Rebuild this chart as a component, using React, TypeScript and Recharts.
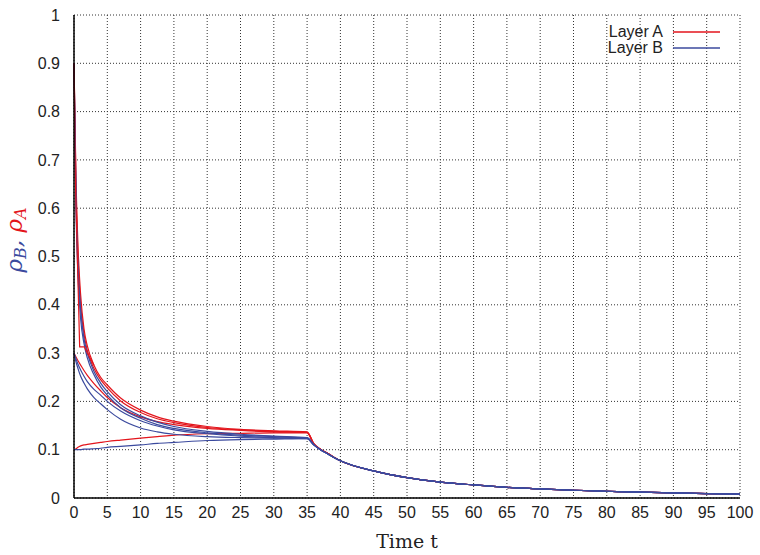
import React from 'react';
import { LineChart, Line, XAxis, YAxis, CartesianGrid, Legend } from 'recharts';

const RED = '#e3151c';
const BLUE = '#3b4a9e';

const times = [0, 0.3, 0.6, 1, 1.5, 2, 3, 4, 5, 7, 10, 12.5, 15, 20, 25, 30, 35, 36, 37, 38, 40, 45, 50, 55, 60, 65, 70, 75, 80, 85, 90, 95, 100];

const layerA1 = [0.9, 0.66, 0.52, 0.42, 0.35, 0.315, 0.275, 0.25, 0.234, 0.207, 0.182, 0.168, 0.159, 0.148, 0.142, 0.139, 0.137, 0.113, 0.101, 0.093, 0.077, 0.056, 0.042, 0.033, 0.027, 0.022, 0.019, 0.016, 0.014, 0.012, 0.0105, 0.009, 0.008];
const layerA2 = [0.9, 0.64, 0.5, 0.4, 0.34, 0.305, 0.268, 0.245, 0.228, 0.201, 0.177, 0.164, 0.156, 0.146, 0.141, 0.138, 0.136, 0.112, 0.101, 0.093, 0.077, 0.056, 0.042, 0.033, 0.027, 0.022, 0.019, 0.016, 0.014, 0.012, 0.0105, 0.009, 0.008];
const layerA3 = [0.3, 0.292, 0.284, 0.275, 0.264, 0.254, 0.237, 0.222, 0.208, 0.187, 0.168, 0.158, 0.152, 0.144, 0.14, 0.137, 0.136, 0.112, 0.101, 0.093, 0.077, 0.056, 0.042, 0.033, 0.027, 0.022, 0.019, 0.016, 0.014, 0.012, 0.0105, 0.009, 0.008];
const layerA4 = [0.1, 0.102, 0.105, 0.108, 0.11, 0.111, 0.113, 0.115, 0.117, 0.12, 0.124, 0.127, 0.13, 0.133, 0.134, 0.135, 0.135, 0.112, 0.101, 0.093, 0.077, 0.056, 0.042, 0.033, 0.027, 0.022, 0.019, 0.016, 0.014, 0.012, 0.0105, 0.009, 0.008];

const layerB1 = [0.9, 0.62, 0.48, 0.39, 0.33, 0.3, 0.262, 0.238, 0.22, 0.193, 0.17, 0.157, 0.148, 0.138, 0.132, 0.128, 0.125, 0.111, 0.1, 0.092, 0.077, 0.056, 0.042, 0.033, 0.027, 0.022, 0.019, 0.016, 0.014, 0.012, 0.0105, 0.009, 0.008];
const layerB2 = [0.9, 0.6, 0.46, 0.37, 0.32, 0.29, 0.255, 0.23, 0.213, 0.187, 0.165, 0.152, 0.144, 0.135, 0.13, 0.127, 0.124, 0.11, 0.1, 0.092, 0.077, 0.056, 0.042, 0.033, 0.027, 0.022, 0.019, 0.016, 0.014, 0.012, 0.0105, 0.009, 0.008];
const layerB3 = [0.3, 0.288, 0.277, 0.265, 0.252, 0.241, 0.225, 0.213, 0.2, 0.18, 0.16, 0.149, 0.141, 0.133, 0.128, 0.125, 0.124, 0.11, 0.1, 0.092, 0.077, 0.056, 0.042, 0.033, 0.027, 0.022, 0.019, 0.016, 0.014, 0.012, 0.0105, 0.009, 0.008];
const layerB4 = [0.3, 0.282, 0.268, 0.252, 0.238, 0.226, 0.208, 0.195, 0.183, 0.163, 0.145, 0.137, 0.132, 0.127, 0.125, 0.124, 0.123, 0.11, 0.1, 0.092, 0.077, 0.056, 0.042, 0.033, 0.027, 0.022, 0.019, 0.016, 0.014, 0.012, 0.0105, 0.009, 0.008];
const layerB5 = [0.1, 0.1, 0.1, 0.1, 0.101, 0.101, 0.102, 0.103, 0.105, 0.107, 0.11, 0.113, 0.115, 0.119, 0.121, 0.122, 0.123, 0.11, 0.1, 0.092, 0.077, 0.056, 0.042, 0.033, 0.027, 0.022, 0.019, 0.016, 0.014, 0.012, 0.0105, 0.009, 0.008];

const stepTimes = [0, 0.2, 0.85, 1.55, 2, 3];
const stepValues = [0.9, 0.66, 0.313, 0.313, 0.3, 0.275];

const xTicks = [0, 5, 10, 15, 20, 25, 30, 35, 40, 45, 50, 55, 60, 65, 70, 75, 80, 85, 90, 95, 100];
const yTicks = [0, 0.1, 0.2, 0.3, 0.4, 0.5, 0.6, 0.7, 0.8, 0.9, 1];

const legendItems = [
  { name: 'Layer A', color: RED },
  { name: 'Layer B', color: BLUE },
];

const data = times.map((t, i) => ({
  t,
  a1: layerA1[i],
  a2: layerA2[i],
  a3: layerA3[i],
  a4: layerA4[i],
  b1: layerB1[i],
  b2: layerB2[i],
  b3: layerB3[i],
  b4: layerB4[i],
  b5: layerB5[i],
}));

const stepData = stepTimes.map((t, i) => ({ t, s: stepValues[i] }));

const SANS = '"Liberation Sans", Arial, sans-serif';
const SERIF = '"DejaVu Serif", serif';

const renderLegend = () => (
  <div style={{ fontFamily: SANS, fontSize: 16, lineHeight: '16px', color: '#222' }}>
    {legendItems.map((it) => (
      <div key={it.name} style={{ display: 'flex', alignItems: 'center', justifyContent: 'flex-end', height: 16 }}>
        <span style={{ lineHeight: '16px' }}>{it.name}</span>
        <svg width={57} height={16} style={{ display: 'block' }}>
          <line x1={10} x2={57} y1={8} y2={8} stroke={it.color} strokeWidth={1.5} />
        </svg>
      </div>
    ))}
  </div>
);

const YLabel = () => (
  <text
    x={22}
    y={240}
    transform="rotate(-90 22 240)"
    textAnchor="middle"
    fontFamily={SERIF}
    fontStyle="italic"
    fontSize={23}
  >
    <tspan fill={BLUE}>ρ</tspan>
    <tspan fill={BLUE} fontSize={16} dy={4}>B</tspan>
    <tspan fill={BLUE} dy={-4}>, </tspan>
    <tspan fill={RED}>ρ</tspan>
    <tspan fill={RED} fontSize={16} dy={4}>A</tspan>
  </text>
);

const XLabel = () => (
  <text x={407} y={548} textAnchor="middle" fontFamily={SERIF} fontSize={19} fill="#222">
    Time t
  </text>
);

const series = [
  { key: 'a1', color: RED },
  { key: 'a2', color: RED },
  { key: 'a3', color: RED },
  { key: 'a4', color: RED },
  { key: 'b1', color: BLUE },
  { key: 'b2', color: BLUE },
  { key: 'b3', color: BLUE },
  { key: 'b4', color: BLUE },
  { key: 'b5', color: BLUE },
];

export default function App() {
  return (
    <div style={{ position: 'absolute', left: 0, top: 0, background: '#fff' }}>
      <LineChart width={760} height={555} data={data} margin={{ top: 15, right: 20, left: 0, bottom: 0 }}>
        <CartesianGrid stroke="#333" strokeDasharray="1 2" strokeWidth={1} />
        <XAxis
          dataKey="t"
          type="number"
          domain={[0, 100]}
          ticks={xTicks}
          interval={0}
          height={57}
          tickLine={false}
          tickSize={6}
          tickMargin={3}
          axisLine={{ stroke: '#000', strokeWidth: 1.5 }}
          tick={{ fill: '#222', fontSize: 16, fontFamily: SANS }}
          label={<XLabel />}
        />
        <YAxis
          type="number"
          domain={[0, 1]}
          ticks={yTicks}
          interval={0}
          width={74}
          tickLine={false}
          tickSize={6}
          tickMargin={8}
          axisLine={{ stroke: '#000', strokeWidth: 1.5 }}
          tick={{ fill: '#222', fontSize: 16, fontFamily: SANS }}
          label={<YLabel />}
        />
        <Legend
          content={renderLegend}
          layout="horizontal"
          verticalAlign="middle"
          align="center"
          wrapperStyle={{ top: 24, left: 560, width: 160 }}
        />
        {series.map((s) => (
          <Line
            key={s.key}
            dataKey={s.key}
            stroke={s.color}
            strokeWidth={1.2}
            dot={false}
            type="monotone"
            isAnimationActive={false}
            legendType="none"
          />
        ))}
        <Line
          data={stepData}
          dataKey="s"
          stroke={RED}
          strokeWidth={1.2}
          dot={false}
          type="linear"
          isAnimationActive={false}
          legendType="none"
        />
      </LineChart>
    </div>
  );
}
